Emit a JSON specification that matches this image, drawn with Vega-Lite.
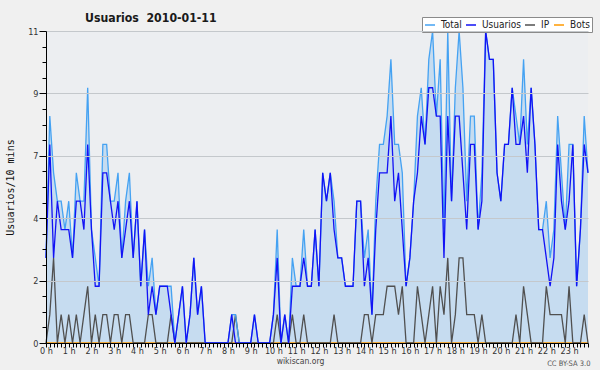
{
  "$schema": "https://vega.github.io/schema/vega-lite/v6.json",
  "width": 542,
  "height": 312,
  "autosize": {"type": "none"},
  "padding": {"left": 46, "top": 31, "right": 12, "bottom": 27},
  "background": "#f0f0f0",
  "title": {"text": "Usuarios\u00a0\u00a02010-01-11", "anchor": "start", "frame": "group", "dx": 39, "dy": 18, "offset": 10, "fontSize": 12.2, "fontWeight": "bold", "color": "#1a1a1a"},
  "data": {"values": [
    {"min":0,"Total":3,"Usuarios":3,"IP":0,"Bots":0},
    {"min":10,"Total":8,"Usuarios":7,"IP":1,"Bots":0},
    {"min":20,"Total":6,"Usuarios":3,"IP":3,"Bots":0},
    {"min":30,"Total":5,"Usuarios":5,"IP":0,"Bots":0},
    {"min":40,"Total":5,"Usuarios":4,"IP":1,"Bots":0},
    {"min":50,"Total":4,"Usuarios":4,"IP":0,"Bots":0},
    {"min":60,"Total":5,"Usuarios":4,"IP":1,"Bots":0},
    {"min":70,"Total":3,"Usuarios":3,"IP":0,"Bots":0},
    {"min":80,"Total":6,"Usuarios":5,"IP":1,"Bots":0},
    {"min":90,"Total":5,"Usuarios":5,"IP":0,"Bots":0},
    {"min":100,"Total":5,"Usuarios":4,"IP":1,"Bots":0},
    {"min":110,"Total":9,"Usuarios":7,"IP":2,"Bots":0},
    {"min":120,"Total":4,"Usuarios":4,"IP":0,"Bots":0},
    {"min":130,"Total":3,"Usuarios":2,"IP":1,"Bots":0},
    {"min":140,"Total":2,"Usuarios":2,"IP":0,"Bots":0},
    {"min":150,"Total":7,"Usuarios":6,"IP":1,"Bots":0},
    {"min":160,"Total":7,"Usuarios":6,"IP":1,"Bots":0},
    {"min":170,"Total":5,"Usuarios":5,"IP":0,"Bots":0},
    {"min":180,"Total":5,"Usuarios":4,"IP":1,"Bots":0},
    {"min":190,"Total":6,"Usuarios":5,"IP":1,"Bots":0},
    {"min":200,"Total":3,"Usuarios":3,"IP":0,"Bots":0},
    {"min":210,"Total":5,"Usuarios":4,"IP":1,"Bots":0},
    {"min":220,"Total":6,"Usuarios":5,"IP":1,"Bots":0},
    {"min":230,"Total":3,"Usuarios":3,"IP":0,"Bots":0},
    {"min":240,"Total":5,"Usuarios":5,"IP":0,"Bots":0},
    {"min":250,"Total":2,"Usuarios":2,"IP":0,"Bots":0},
    {"min":260,"Total":4,"Usuarios":4,"IP":0,"Bots":0},
    {"min":270,"Total":2,"Usuarios":1,"IP":1,"Bots":0},
    {"min":280,"Total":3,"Usuarios":2,"IP":1,"Bots":0},
    {"min":290,"Total":1,"Usuarios":1,"IP":0,"Bots":0},
    {"min":300,"Total":2,"Usuarios":2,"IP":0,"Bots":0},
    {"min":310,"Total":2,"Usuarios":2,"IP":0,"Bots":0},
    {"min":320,"Total":2,"Usuarios":2,"IP":0,"Bots":0},
    {"min":330,"Total":2,"Usuarios":1,"IP":1,"Bots":0},
    {"min":340,"Total":0,"Usuarios":0,"IP":0,"Bots":0},
    {"min":350,"Total":1,"Usuarios":1,"IP":0,"Bots":0},
    {"min":360,"Total":2,"Usuarios":2,"IP":0,"Bots":0},
    {"min":370,"Total":0,"Usuarios":0,"IP":0,"Bots":0},
    {"min":380,"Total":1,"Usuarios":1,"IP":0,"Bots":0},
    {"min":390,"Total":3,"Usuarios":3,"IP":0,"Bots":0},
    {"min":400,"Total":1,"Usuarios":1,"IP":0,"Bots":0},
    {"min":410,"Total":2,"Usuarios":2,"IP":0,"Bots":0},
    {"min":420,"Total":0,"Usuarios":0,"IP":0,"Bots":0},
    {"min":430,"Total":0,"Usuarios":0,"IP":0,"Bots":0},
    {"min":440,"Total":0,"Usuarios":0,"IP":0,"Bots":0},
    {"min":450,"Total":0,"Usuarios":0,"IP":0,"Bots":0},
    {"min":460,"Total":0,"Usuarios":0,"IP":0,"Bots":0},
    {"min":470,"Total":0,"Usuarios":0,"IP":0,"Bots":0},
    {"min":480,"Total":0,"Usuarios":0,"IP":0,"Bots":0},
    {"min":490,"Total":1,"Usuarios":1,"IP":0,"Bots":0},
    {"min":500,"Total":1,"Usuarios":0,"IP":1,"Bots":0},
    {"min":510,"Total":0,"Usuarios":0,"IP":0,"Bots":0},
    {"min":520,"Total":0,"Usuarios":0,"IP":0,"Bots":0},
    {"min":530,"Total":0,"Usuarios":0,"IP":0,"Bots":0},
    {"min":540,"Total":0,"Usuarios":0,"IP":0,"Bots":0},
    {"min":550,"Total":1,"Usuarios":1,"IP":0,"Bots":0},
    {"min":560,"Total":0,"Usuarios":0,"IP":0,"Bots":0},
    {"min":570,"Total":0,"Usuarios":0,"IP":0,"Bots":0},
    {"min":580,"Total":0,"Usuarios":0,"IP":0,"Bots":0},
    {"min":590,"Total":0,"Usuarios":0,"IP":0,"Bots":0},
    {"min":600,"Total":1,"Usuarios":1,"IP":0,"Bots":0},
    {"min":610,"Total":4,"Usuarios":3,"IP":1,"Bots":0},
    {"min":620,"Total":0,"Usuarios":0,"IP":0,"Bots":0},
    {"min":630,"Total":1,"Usuarios":1,"IP":0,"Bots":0},
    {"min":640,"Total":0,"Usuarios":0,"IP":0,"Bots":0},
    {"min":650,"Total":3,"Usuarios":2,"IP":1,"Bots":0},
    {"min":660,"Total":2,"Usuarios":2,"IP":0,"Bots":0},
    {"min":670,"Total":2,"Usuarios":2,"IP":0,"Bots":0},
    {"min":680,"Total":4,"Usuarios":3,"IP":1,"Bots":0},
    {"min":690,"Total":2,"Usuarios":2,"IP":0,"Bots":0},
    {"min":700,"Total":2,"Usuarios":2,"IP":0,"Bots":0},
    {"min":710,"Total":4,"Usuarios":4,"IP":0,"Bots":0},
    {"min":720,"Total":2,"Usuarios":2,"IP":0,"Bots":0},
    {"min":730,"Total":6,"Usuarios":6,"IP":0,"Bots":0},
    {"min":740,"Total":5,"Usuarios":5,"IP":0,"Bots":0},
    {"min":750,"Total":6,"Usuarios":6,"IP":0,"Bots":0},
    {"min":760,"Total":5,"Usuarios":4,"IP":1,"Bots":0},
    {"min":770,"Total":3,"Usuarios":3,"IP":0,"Bots":0},
    {"min":780,"Total":3,"Usuarios":3,"IP":0,"Bots":0},
    {"min":790,"Total":2,"Usuarios":2,"IP":0,"Bots":0},
    {"min":800,"Total":2,"Usuarios":2,"IP":0,"Bots":0},
    {"min":810,"Total":2,"Usuarios":2,"IP":0,"Bots":0},
    {"min":820,"Total":5,"Usuarios":5,"IP":0,"Bots":0},
    {"min":830,"Total":5,"Usuarios":5,"IP":0,"Bots":0},
    {"min":840,"Total":3,"Usuarios":2,"IP":1,"Bots":0},
    {"min":850,"Total":4,"Usuarios":3,"IP":1,"Bots":0},
    {"min":860,"Total":1,"Usuarios":1,"IP":0,"Bots":0},
    {"min":870,"Total":5,"Usuarios":4,"IP":1,"Bots":0},
    {"min":880,"Total":7,"Usuarios":6,"IP":1,"Bots":0},
    {"min":890,"Total":7,"Usuarios":6,"IP":1,"Bots":0},
    {"min":900,"Total":8,"Usuarios":6,"IP":2,"Bots":0},
    {"min":910,"Total":10,"Usuarios":8,"IP":2,"Bots":0},
    {"min":920,"Total":7,"Usuarios":5,"IP":2,"Bots":0},
    {"min":930,"Total":7,"Usuarios":6,"IP":1,"Bots":0},
    {"min":940,"Total":6,"Usuarios":4,"IP":2,"Bots":0},
    {"min":950,"Total":2,"Usuarios":2,"IP":0,"Bots":0},
    {"min":960,"Total":3,"Usuarios":3,"IP":0,"Bots":0},
    {"min":970,"Total":5,"Usuarios":5,"IP":0,"Bots":0},
    {"min":980,"Total":8,"Usuarios":6,"IP":2,"Bots":0},
    {"min":990,"Total":9,"Usuarios":8,"IP":1,"Bots":0},
    {"min":1000,"Total":7,"Usuarios":7,"IP":0,"Bots":0},
    {"min":1010,"Total":10,"Usuarios":9,"IP":1,"Bots":0},
    {"min":1020,"Total":11,"Usuarios":9,"IP":2,"Bots":0},
    {"min":1030,"Total":8,"Usuarios":8,"IP":0,"Bots":0},
    {"min":1040,"Total":10,"Usuarios":8,"IP":2,"Bots":0},
    {"min":1050,"Total":4,"Usuarios":3,"IP":1,"Bots":0},
    {"min":1060,"Total":11,"Usuarios":8,"IP":3,"Bots":0},
    {"min":1070,"Total":5,"Usuarios":5,"IP":0,"Bots":0},
    {"min":1080,"Total":9,"Usuarios":8,"IP":1,"Bots":0},
    {"min":1090,"Total":11,"Usuarios":8,"IP":3,"Bots":0},
    {"min":1100,"Total":9,"Usuarios":6,"IP":3,"Bots":0},
    {"min":1110,"Total":5,"Usuarios":4,"IP":1,"Bots":0},
    {"min":1120,"Total":8,"Usuarios":7,"IP":1,"Bots":0},
    {"min":1130,"Total":8,"Usuarios":7,"IP":1,"Bots":0},
    {"min":1140,"Total":4,"Usuarios":4,"IP":0,"Bots":0},
    {"min":1150,"Total":6,"Usuarios":5,"IP":1,"Bots":0},
    {"min":1160,"Total":11,"Usuarios":11,"IP":0,"Bots":0},
    {"min":1170,"Total":10,"Usuarios":10,"IP":0,"Bots":0},
    {"min":1180,"Total":10,"Usuarios":10,"IP":0,"Bots":0},
    {"min":1190,"Total":6,"Usuarios":6,"IP":0,"Bots":0},
    {"min":1200,"Total":5,"Usuarios":5,"IP":0,"Bots":0},
    {"min":1210,"Total":7,"Usuarios":7,"IP":0,"Bots":0},
    {"min":1220,"Total":7,"Usuarios":7,"IP":0,"Bots":0},
    {"min":1230,"Total":9,"Usuarios":9,"IP":0,"Bots":0},
    {"min":1240,"Total":8,"Usuarios":7,"IP":1,"Bots":0},
    {"min":1250,"Total":7,"Usuarios":7,"IP":0,"Bots":0},
    {"min":1260,"Total":10,"Usuarios":8,"IP":2,"Bots":0},
    {"min":1270,"Total":7,"Usuarios":6,"IP":1,"Bots":0},
    {"min":1280,"Total":9,"Usuarios":9,"IP":0,"Bots":0},
    {"min":1290,"Total":7,"Usuarios":7,"IP":0,"Bots":0},
    {"min":1300,"Total":4,"Usuarios":4,"IP":0,"Bots":0},
    {"min":1310,"Total":4,"Usuarios":4,"IP":0,"Bots":0},
    {"min":1320,"Total":5,"Usuarios":3,"IP":2,"Bots":0},
    {"min":1330,"Total":3,"Usuarios":2,"IP":1,"Bots":0},
    {"min":1340,"Total":4,"Usuarios":3,"IP":1,"Bots":0},
    {"min":1350,"Total":8,"Usuarios":7,"IP":1,"Bots":0},
    {"min":1360,"Total":6,"Usuarios":5,"IP":1,"Bots":0},
    {"min":1370,"Total":4,"Usuarios":4,"IP":0,"Bots":0},
    {"min":1380,"Total":7,"Usuarios":5,"IP":2,"Bots":0},
    {"min":1390,"Total":7,"Usuarios":7,"IP":0,"Bots":0},
    {"min":1400,"Total":2,"Usuarios":2,"IP":0,"Bots":0},
    {"min":1410,"Total":4,"Usuarios":4,"IP":0,"Bots":0},
    {"min":1420,"Total":8,"Usuarios":7,"IP":1,"Bots":0},
    {"min":1430,"Total":6,"Usuarios":6,"IP":0,"Bots":0}
  ]},
  "encoding": {
    "x": {
      "field": "min", "type": "quantitative",
      "scale": {"domain": [0, 1430], "nice": false, "zero": false},
      "axis": {
        "tickCount": 143,
        "labelExpr": "datum.value % 60 == 0 ? (datum.value / 60) + ' h' : ''",
        "labelFlush": false, "labelOverlap": false, "labelBound": false,
        "grid": false, "tickSize": 4, "tickColor": "#000000", "domainColor": "#000000",
        "labelFontSize": 9, "labelColor": "#333333", "labelPadding": -1,
        "title": "wikiscan.org", "titleX": 254, "titleY": 20, "titleBaseline": "alphabetic",
        "titleFontSize": 8.5, "titleFontWeight": "normal", "titleColor": "#444444",
        "zindex": 1
      }
    }
  },
  "layer": [
    {
      "mark": {"type": "area", "color": "#c6dcf0", "opacity": 1},
      "encoding": {
        "y": {
          "field": "Total", "type": "quantitative",
          "scale": {"domain": [0, 11], "nice": false, "zero": true},
          "axis": {
            "values": [0,0.55,1.1,1.65,2.2,2.75,3.3,3.85,4.4,4.95,5.5,6.05,6.6,7.15,7.7,8.25,8.8,9.35,9.9,10.45,11],
            "labelExpr": "abs(datum.value/2.2 - round(datum.value/2.2)) < 0.001 ? format(round(datum.value), 'd') : ''",
            "tickSize": {"condition": {"test": "abs(datum.value/2.2 - round(datum.value/2.2)) < 0.001", "value": 7}, "value": 4},
            "grid": true,
            "gridOpacity": {"condition": {"test": "abs(datum.value/2.2 - round(datum.value/2.2)) < 0.001", "value": 1}, "value": 0},
            "gridColor": "#c4c8cc", "gridWidth": 1,
            "domainColor": "#000000", "tickColor": "#000000",
            "labelFontSize": 9, "labelColor": "#333333", "labelPadding": 1, "labelOverlap": false, "labelBound": false, "labelFlush": false,
            "title": "Usuarios/10 mins", "titleFont": "DejaVu Sans Mono", "titleFontSize": 10, "titleFontWeight": "normal", "titleColor": "#111111",
            "titleAngle": 270, "titleX": -36, "titleY": 156, "titleAlign": "center", "titleBaseline": "middle",
            "zindex": 1
          }
        }
      }
    },
    {
      "transform": [{"fold": ["Bots", "IP", "Total", "Usuarios"], "as": ["serie", "valor"]}],
      "mark": {"type": "line", "strokeWidth": 1.3},
      "encoding": {
        "y": {
          "field": "valor", "type": "quantitative",
          "scale": {"domain": [0, 11], "nice": false, "zero": true},
          "axis": {
            "orient": "right", "labels": false, "ticks": false, "domain": false, "grid": false,
            "title": "CC BY-SA 3.0", "titleAngle": 0, "titleX": 2, "titleY": 334,
            "titleAlign": "right", "titleBaseline": "alphabetic",
            "titleFontSize": 7.5, "titleFontWeight": "normal", "titleColor": "#555555"
          }
        },
        "color": {
          "field": "serie", "type": "nominal",
          "scale": {"domain": ["Total", "Usuarios", "IP", "Bots"], "range": ["#45a2f2", "#1212f5", "#505050", "#ff9a00"]},
          "legend": {
            "title": null, "orient": "none", "legendX": 376, "legendY": -14,
            "direction": "horizontal", "symbolType": "stroke", "symbolSize": 100, "symbolStrokeWidth": 1.5,
            "labelFontSize": 10, "labelOffset": 5, "columnPadding": 1, "padding": 2,
            "fillColor": "#ffffff", "strokeColor": "#8a8a8a", "labelColor": "#222222"
          }
        }
      }
    }
  ],
  "resolve": {"axis": {"y": "independent"}},
  "config": {
    "font": "DejaVu Sans Condensed, Liberation Sans, sans-serif",
    "view": {"stroke": null, "fill": "#eceef1"}
  }
}
